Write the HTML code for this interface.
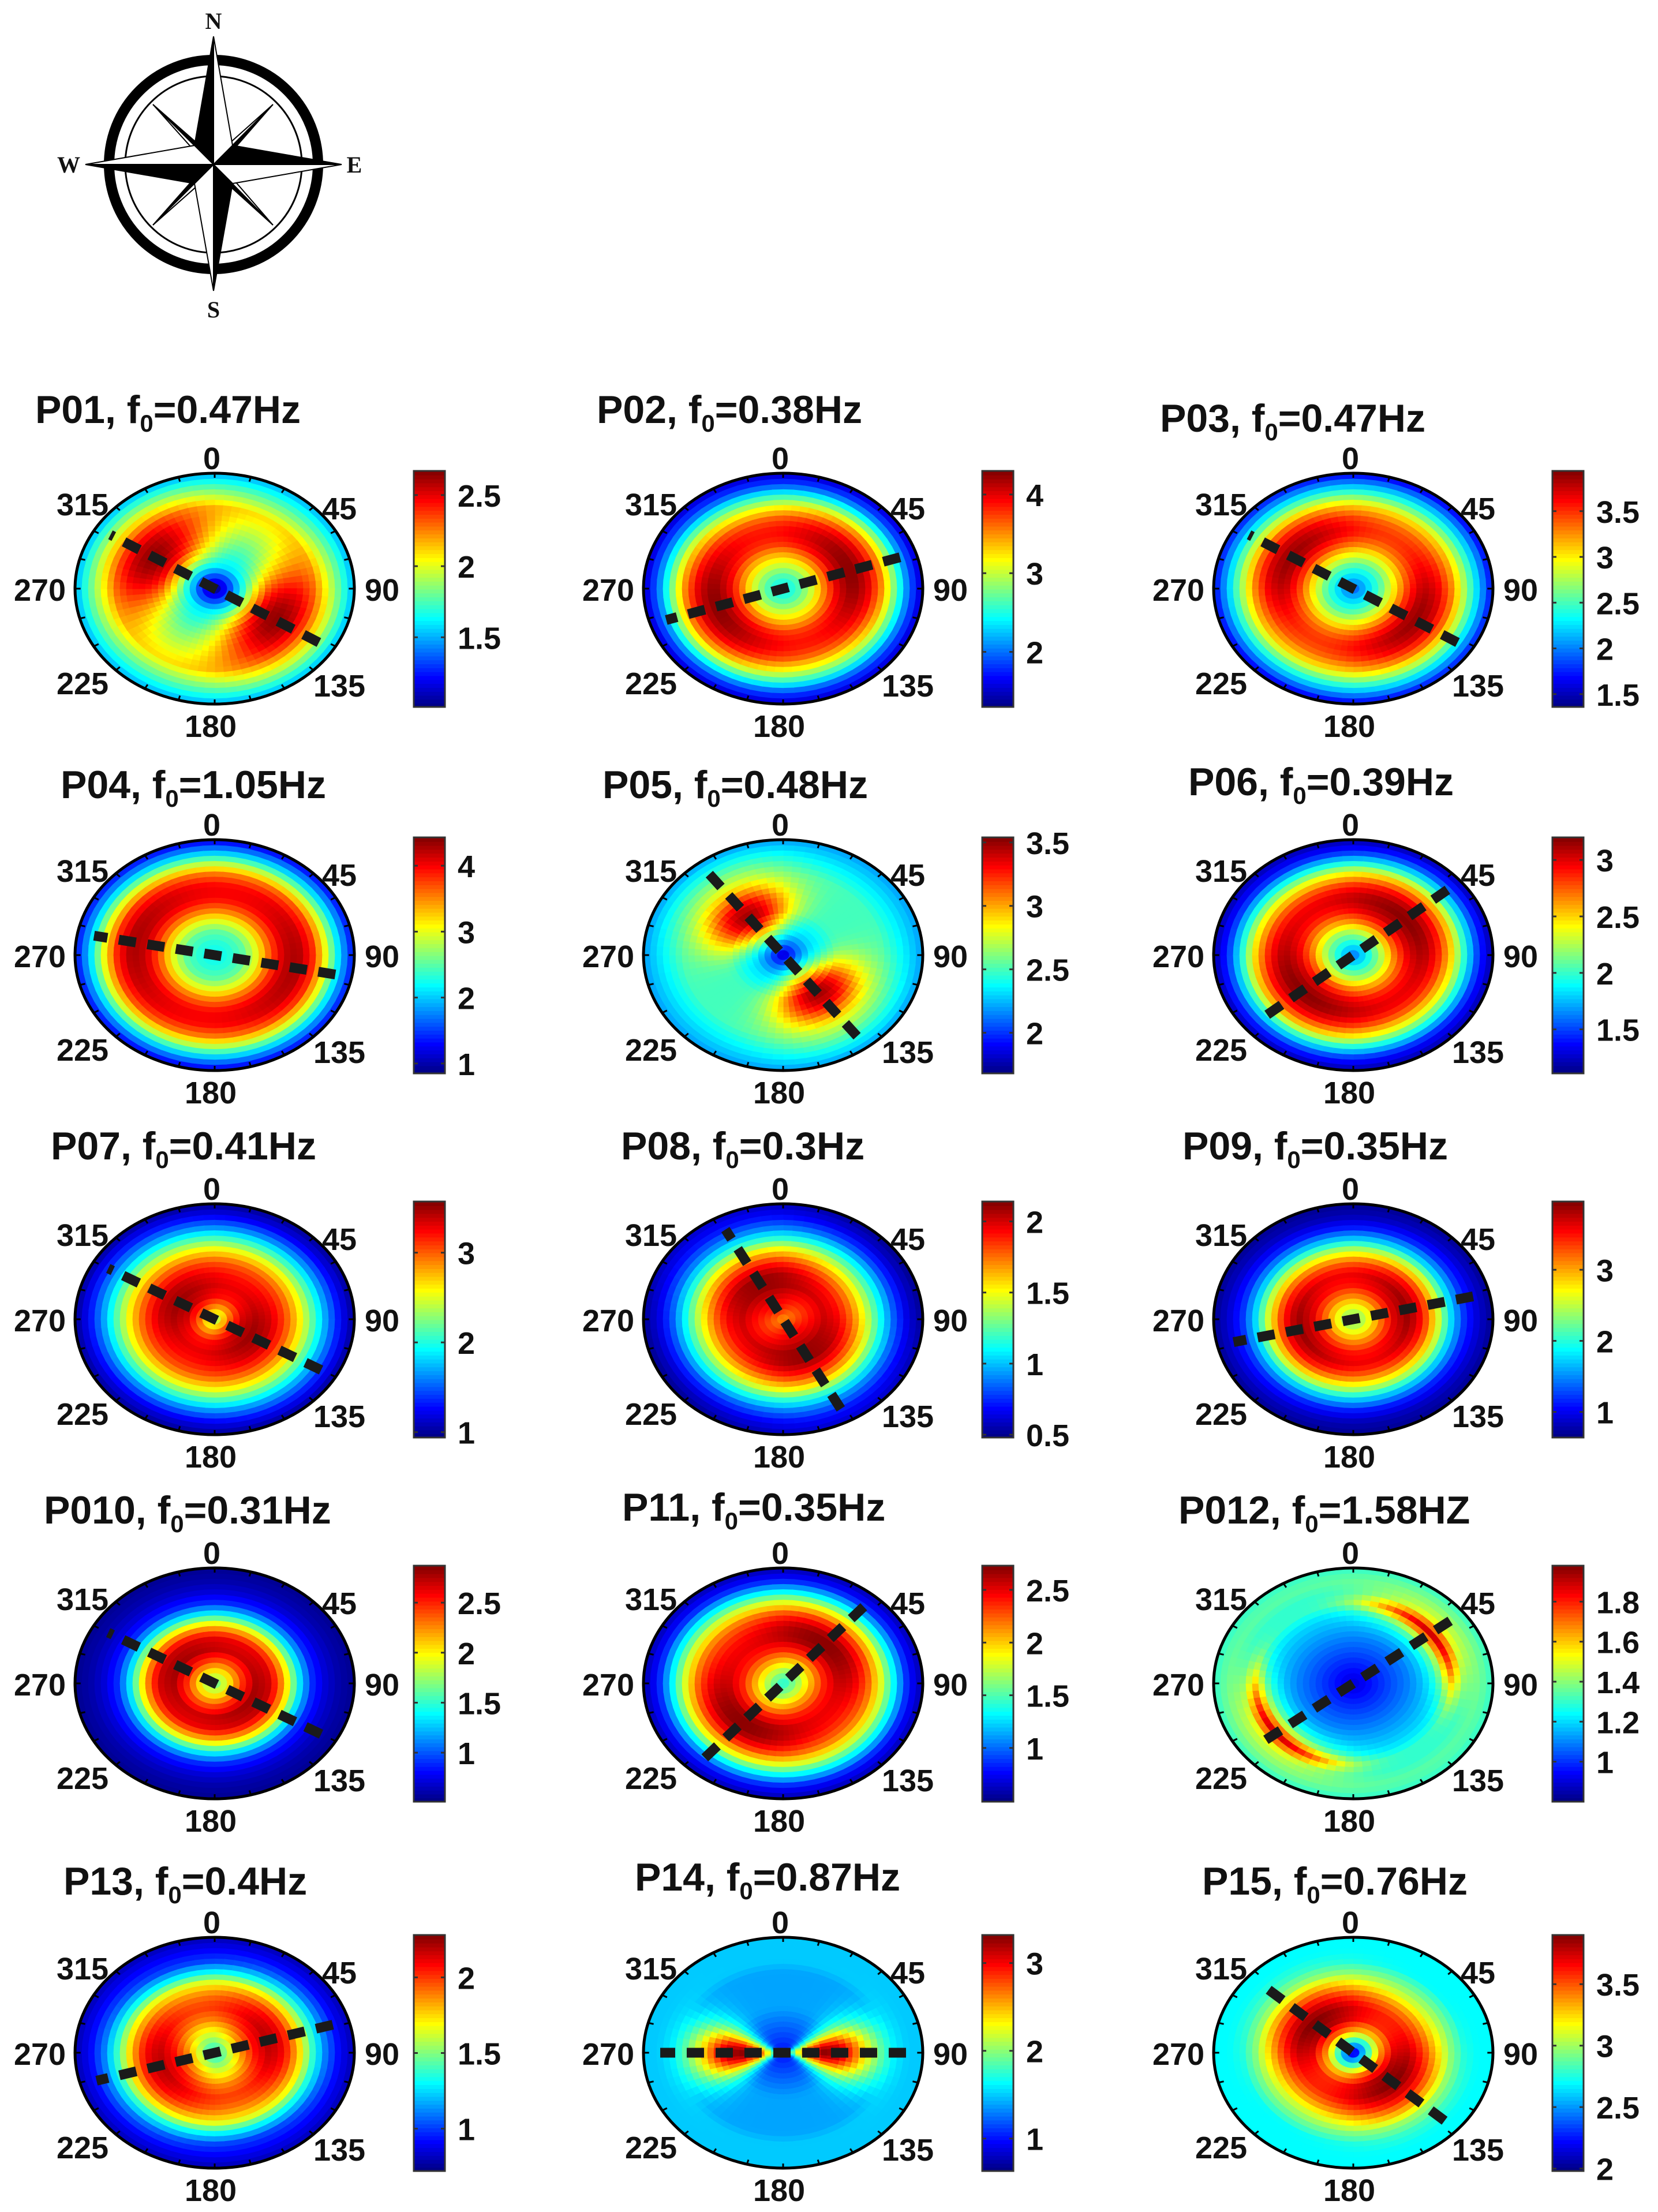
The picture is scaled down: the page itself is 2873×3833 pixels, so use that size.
<!DOCTYPE html>
<html><head><meta charset="utf-8"><style>
html,body{margin:0;padding:0;background:#fff;}
svg{display:block;}
text{font-family:"Liberation Sans",Arial,sans-serif;font-weight:bold;fill:#111;}
</style></head><body>
<svg id="fig" width="2873" height="3833" viewBox="0 0 2873 3833" xmlns="http://www.w3.org/2000/svg">
<g id="compass">
  <circle cx="370" cy="285" r="181" fill="none" stroke="#000" stroke-width="18"/>
  <circle cx="370" cy="285" r="153" fill="none" stroke="#000" stroke-width="3"/>
  <g stroke="#000" stroke-width="2" stroke-linejoin="miter">
    <polygon points="370,285 473,181 382,285" fill="#000"/><polygon points="370,285 473,181 370,273" fill="#fff"/>
    <polygon points="370,285 473,390 370,297" fill="#000"/><polygon points="370,285 473,390 382,285" fill="#fff"/>
    <polygon points="370,285 265,390 358,285" fill="#000"/><polygon points="370,285 265,390 370,297" fill="#fff"/>
    <polygon points="370,285 265,181 370,273" fill="#000"/><polygon points="370,285 265,181 358,285" fill="#fff"/>
    <polygon points="370,63 337,252 370,285" fill="#000"/><polygon points="370,63 403,252 370,285" fill="#fff"/>
    <polygon points="592,285 403,252 370,285" fill="#000"/><polygon points="592,285 403,318 370,285" fill="#fff"/>
    <polygon points="370,504 403,318 370,285" fill="#000"/><polygon points="370,504 337,318 370,285" fill="#fff"/>
    <polygon points="148,285 337,318 370,285" fill="#000"/><polygon points="148,285 337,252 370,285" fill="#fff"/>
  </g>
  <text x="370" y="50" text-anchor="middle" style="font-family:'Liberation Serif',serif;font-size:40px">N</text>
  <text x="370" y="550" text-anchor="middle" style="font-family:'Liberation Serif',serif;font-size:40px">S</text>
  <text x="119" y="299" text-anchor="middle" style="font-family:'Liberation Serif',serif;font-size:40px">W</text>
  <text x="614" y="299" text-anchor="middle" style="font-family:'Liberation Serif',serif;font-size:40px">E</text>
</g>
<g id="panels"></g>
</svg>
<script>
// ---- data ----
const panelNames = ["P01","P02","P03","P04","P05","P06","P07","P08","P09","P010","P11","P012","P13","P14","P15"];
const panelFreqs = ["0.47Hz","0.38Hz","0.47Hz","1.05Hz","0.48Hz","0.39Hz","0.41Hz","0.3Hz","0.35Hz","0.31Hz","0.35Hz","1.58HZ","0.4Hz","0.87Hz","0.76Hz"];
const mainDirs = [122,72,122,101,143,50,120,152,77,120,41,52,74,90,132];
const dirSharpness = [2,2,2,2,3,2,2,2,2,2,2,3,2,8,2];
const alongProfiles = [
 [1.0,1.3,1.7,2.2,2.55,2.65,2.6,2.4,2.1,1.8,1.5],
 [2.4,2.6,3.0,3.6,4.1,4.3,4.1,3.6,2.8,2.0,1.5],
 [1.9,2.2,2.6,3.1,3.6,3.9,3.8,3.4,2.8,2.2,1.7],
 [2.2,2.3,2.5,3.0,3.7,4.2,4.3,3.9,3.0,2.0,1.3],
 [1.8,2.2,2.7,3.2,3.5,3.4,3.1,2.8,2.6,2.4,2.2],
 [1.6,1.9,2.3,2.8,3.1,3.2,3.0,2.6,2.0,1.5,1.2],
 [2.3,3.0,3.4,3.5,3.4,3.1,2.7,2.2,1.7,1.3,1.0],
 [1.7,1.9,2.0,2.1,2.1,1.9,1.6,1.2,0.9,0.7,0.6],
 [2.2,2.6,3.2,3.7,3.9,3.5,2.7,1.8,1.2,0.9,0.7],
 [1.6,2.0,2.5,2.8,2.7,2.2,1.4,0.9,0.7,0.6,0.55],
 [1.4,1.6,2.0,2.4,2.7,2.7,2.4,1.9,1.3,0.8,0.6],
 [0.9,0.95,1.0,1.05,1.1,1.2,1.4,1.9,1.5,1.4,1.3],
 [1.3,1.6,1.9,2.1,2.2,2.1,1.8,1.4,1.1,0.9,0.8],
 [1.2,2.2,3.0,3.3,3.2,2.8,2.3,1.9,1.6,1.5,1.5],
 [2.1,2.8,3.5,3.85,3.9,3.7,3.4,3.0,2.8,2.7,2.7]
];
const perpProfiles = [
 [1.0,1.3,1.6,1.7,1.8,1.9,2.0,2.1,1.9,1.7,1.5],
 [2.4,2.6,3.0,3.4,3.8,3.9,3.7,3.2,2.6,1.9,1.5],
 [1.9,2.2,2.5,2.9,3.3,3.5,3.4,3.1,2.6,2.1,1.6],
 [2.2,2.3,2.5,3.0,3.6,4.0,4.0,3.6,2.8,1.9,1.2],
 [1.8,2.1,2.3,2.4,2.5,2.5,2.5,2.5,2.4,2.3,2.2],
 [1.6,1.9,2.2,2.6,2.9,3.0,2.8,2.4,1.9,1.4,1.2],
 [2.3,2.8,3.2,3.3,3.2,3.0,2.6,2.1,1.6,1.2,1.0],
 [1.7,1.8,1.9,2.0,1.9,1.7,1.4,1.1,0.8,0.6,0.5],
 [2.2,2.6,3.1,3.5,3.6,3.2,2.5,1.7,1.1,0.8,0.7],
 [1.6,2.0,2.4,2.7,2.6,2.1,1.4,0.9,0.7,0.6,0.55],
 [1.4,1.7,2.1,2.4,2.5,2.4,2.2,1.8,1.3,0.8,0.6],
 [0.9,0.95,1.0,1.05,1.1,1.15,1.2,1.3,1.3,1.35,1.3],
 [1.3,1.5,1.7,1.9,2.0,1.9,1.7,1.3,1.0,0.9,0.8],
 [1.0,1.1,1.2,1.3,1.4,1.4,1.4,1.4,1.5,1.5,1.5],
 [2.1,2.7,3.3,3.6,3.6,3.4,3.1,2.9,2.7,2.7,2.7]
];
const cbarMin = [1.01,1.3,1.36,0.85,1.68,1.11,0.94,0.48,0.64,0.51,0.49,0.8,0.72,0.63,1.98];
const cbarMax = [2.67,4.3,3.94,4.43,3.54,3.2,3.57,2.14,3.96,2.87,2.73,1.98,2.28,3.32,3.9];
const cbarTicks = [
 ["1.5","2","2.5"],["2","3","4"],["1.5","2","2.5","3","3.5"],["1","2","3","4"],["2","2.5","3","3.5"],
 ["1.5","2","2.5","3"],["1","2","3"],["0.5","1","1.5","2"],["1","2","3"],["1","1.5","2","2.5"],
 ["1","1.5","2","2.5"],["1","1.2","1.4","1.6","1.8"],["1","1.5","2"],["1","2","3"],["2","2.5","3","3.5"]
];
const angleLabels = ["0","45","90","135","180","225","270","315"];
// ---- layout ----
const colCX = [372,1357,2345];
const rowCY = [1020,1655,2286,2917,3557];
const titleLeft = [61,1034,2010, 105,1044,2059, 88,1076,2049, 76,1078,2042, 110,1100,2083];
const titleCY = [709,709,724, 1359,1359,1354, 1985,1985,1985, 2616,2611,2616, 3259,3252,3259];
const RX=242, RY=200;
const NS="http://www.w3.org/2000/svg";
function jet(t){t=Math.max(0,Math.min(1,t));const c=v=>Math.round(255*Math.max(0,Math.min(1,v)));
 return `rgb(${c(1.5-Math.abs(4*t-3))},${c(1.5-Math.abs(4*t-2))},${c(1.5-Math.abs(4*t-1))})`;}
function prof(a,r){const f=r*(a.length-1);const i=Math.min(a.length-2,Math.floor(f));const u=f-i;return a[i]*(1-u)+a[i+1]*u;}
function mk(tag,attrs,parent){const e=document.createElementNS(NS,tag);for(const k in attrs)e.setAttribute(k,attrs[k]);parent.appendChild(e);return e;}
const root=document.getElementById('panels');
for(let p=0;p<15;p++){
 const cx=colCX[p%3], cy=rowCY[Math.floor(p/3)];
 const g=mk('g',{},root);
 
 
 const xs=(r,th)=>cx+r*RX*Math.sin(th*Math.PI/180), ys=(r,th)=>cy-r*RY*Math.cos(th*Math.PI/180);
 const vmin=cbarMin[p], vmax=cbarMax[p];
 const heat=mk('g',{},g);
 
 
 const NA=72, NR=22;
 for(let i=0;i<NA;i++){
  const t0=i*360/NA, t1=(i+1)*360/NA, tm=(t0+t1)/2;
  const w=Math.pow(Math.abs(Math.cos((tm-mainDirs[p])*Math.PI/180)),dirSharpness[p]);
  for(let j=0;j<NR;j++){
   const r0=j/NR, r1=(j+1)/NR, rm=(r0+r1)/2;
   const a=prof(alongProfiles[p],rm), b=prof(perpProfiles[p],rm);
   const v=b+w*(a-b);
   const col=jet((v-vmin)/(vmax-vmin));
   const d=`M${xs(r0,t0)},${ys(r0,t0)}L${xs(r1,t0)},${ys(r1,t0)}L${xs(r1,t1)},${ys(r1,t1)}L${xs(r0,t1)},${ys(r0,t1)}Z`;
   const c=mk('path',{d:d,fill:col,stroke:col,'stroke-width':'1.2'},heat);
   
   
  }
 }
 const el=mk('ellipse',{cx:cx,cy:cy,rx:RX,ry:RY,fill:'none',stroke:'#000','stroke-width':5},g);
 
 
 for(let a=0;a<360;a+=15){
  const tk=mk('line',{x1:xs(1,a),y1:ys(1,a),x2:xs(0.96,a),y2:ys(0.96,a),stroke:'#000','stroke-width':3},g);
  
  
 }
 const d=mainDirs[p];
 const ln=mk('line',{x1:xs(0.88,d),y1:ys(0.88,d),x2:xs(0.88,d+180),y2:ys(0.88,d+180),stroke:'#1a1a1a','stroke-width':17,'stroke-dasharray':'30 20'},g);
 
 
 const lp=[[-5,-227],[216,-140],[290,1],[216,167],[-7,237],[-229,163],[-303,1],[-229,-147]];
 angleLabels.forEach((s,k)=>{
  const t=mk('text',{x:cx+lp[k][0],y:cy+lp[k][1]+20,'text-anchor':'middle','font-size':54},g);
  t.textContent=s;
  
  
 });
 const bx=cx+345, bw=54, bt=cy-204, bb=cy+205;
 const cb=mk('g',{},g);
 
 
 const NB=60;
 for(let k=0;k<NB;k++){
  const y0=bb-(k+1)*(bb-bt)/NB;
  mk('rect',{x:bx,y:y0,width:bw,height:(bb-bt)/NB+1,fill:jet((k+0.5)/NB)},cb);
 }
 mk('rect',{x:bx,y:bt,width:bw,height:bb-bt,fill:'none',stroke:'#333','stroke-width':3},cb);
 cbarTicks[p].forEach(s=>{
  const v=parseFloat(s); const y=bb-(v-vmin)/(vmax-vmin)*(bb-bt);
  mk('line',{x1:bx,y1:y,x2:bx+7,y2:y,stroke:'#333','stroke-width':3},cb);
  mk('line',{x1:bx+bw-7,y1:y,x2:bx+bw,y2:y,stroke:'#333','stroke-width':3},cb);
  const t=mk('text',{x:bx+bw+22,y:y+20,'font-size':54},cb);
  t.textContent=s;
  
  
 });
 const tt=mk('text',{x:titleLeft[p],y:titleCY[p]+24,'font-size':68},g);
 
 
 const t1=document.createElementNS(NS,'tspan'); t1.textContent=panelNames[p]+", f"; tt.appendChild(t1);
 const t2=document.createElementNS(NS,'tspan'); t2.setAttribute('font-size','42'); t2.setAttribute('dy','15'); t2.textContent="0"; tt.appendChild(t2);
 const t3=document.createElementNS(NS,'tspan'); t3.setAttribute('dy','-15'); t3.textContent="="+panelFreqs[p]; tt.appendChild(t3);
}
</script>
</body></html>
